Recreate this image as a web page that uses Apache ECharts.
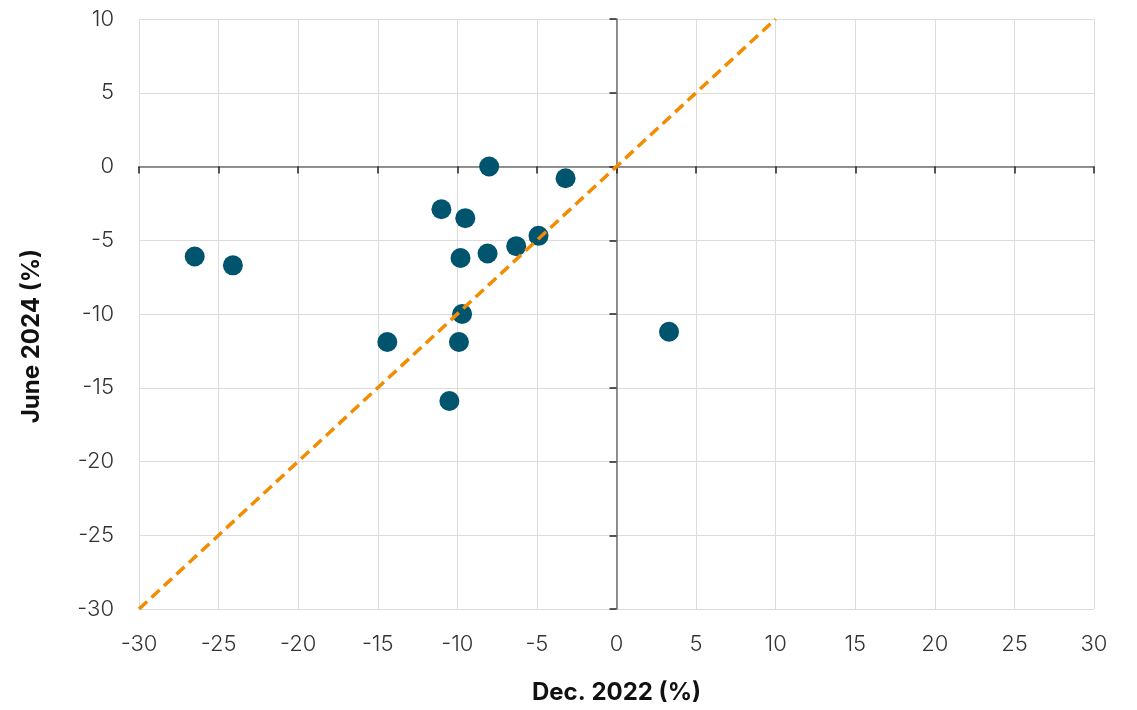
<!DOCTYPE html>
<html>
<head>
<meta charset="utf-8">
<script src="https://cdn.jsdelivr.net/npm/echarts@6/dist/echarts.min.js"></script>
<style>
html,body{margin:0;padding:0;background:#fff;}
#chart{width:1137px;height:710px;}
</style>
</head>
<body>
<div id="chart"></div>
<script>
// Dec. 2022 (%) values
const dec2022 = [-26.5, -24.1, -14.4, -11.0, -9.5, -9.8, -9.7, -9.9, -10.5, -8.0, -8.1, -6.3, -4.9, -3.2, 3.3];
// June 2024 (%) values
const june2024 = [-6.1, -6.7, -11.9, -2.9, -3.5, -6.2, -10.0, -11.9, -15.9, 0.0, -5.9, -5.4, -4.7, -0.8, -11.2];
// 45-degree reference line endpoints
const refX = [-30, 10];
const refY = [-30, 10];
const xRange = [-30, 30];
const yRange = [-30, 10];
const tickStep = 5;
const xTitle = 'Dec. 2022 (%)';
const yTitle = 'June 2024 (%)';

const points = dec2022.map((x, i) => [x, june2024[i]]);
const refLine = refX.map((x, i) => [x, refY[i]]);

const FONT = 'Inter, "Noto Sans", sans-serif';
const labelStyle = {color: '#333333', fontSize: 22, fontFamily: FONT, fontWeight: 300};
const grid = {left: 139, right: 43, top: 19, bottom: 100};

const chart = echarts.init(document.getElementById('chart'), null, {renderer: 'canvas'});
chart.setOption({
  animation: false,
  backgroundColor: '#ffffff',
  grid: grid,
  xAxis: [
    {
      type: 'value', min: xRange[0], max: xRange[1], interval: tickStep,
      position: 'bottom',
      axisLine: {show: false, onZero: false},
      axisTick: {show: false},
      axisLabel: Object.assign({margin: 24}, labelStyle),
      splitLine: {show: true, lineStyle: {color: '#dcdcdc', width: 1}},
      name: xTitle, nameLocation: 'middle', nameGap: 72,
      nameTextStyle: {color: '#111', fontSize: 24, fontWeight: 'bold', fontFamily: FONT}
    },
    {
      type: 'value', min: xRange[0], max: xRange[1], interval: tickStep,
      position: 'bottom',
      axisLine: {show: true, onZero: true, onZeroAxisIndex: 0, lineStyle: {color: '#6f6f6f', width: 1.5}},
      axisTick: {show: true, inside: false, length: 7, lineStyle: {color: '#222', width: 1.5}},
      axisLabel: {show: false},
      splitLine: {show: false}
    }
  ],
  yAxis: [
    {
      type: 'value', min: yRange[0], max: yRange[1], interval: tickStep,
      position: 'left',
      axisLine: {show: false, onZero: false},
      axisTick: {show: false},
      axisLabel: Object.assign({margin: 25}, labelStyle),
      splitLine: {show: true, lineStyle: {color: '#dcdcdc', width: 1}}
    },
    {
      type: 'value', min: yRange[0], max: yRange[1], interval: tickStep,
      position: 'left',
      axisLine: {show: true, onZero: true, onZeroAxisIndex: 0, lineStyle: {color: '#6f6f6f', width: 1.5}},
      axisTick: {show: true, inside: false, length: 7, lineStyle: {color: '#222', width: 1.5}},
      axisLabel: {show: false},
      splitLine: {show: false}
    }
  ],
  graphic: [
    {
      type: 'text', x: 32, y: 336, rotation: Math.PI / 2,
      style: {text: yTitle, fill: '#111', font: 'bold 24px ' + FONT, align: 'center', verticalAlign: 'middle'}
    }
  ],
  series: [
    {
      type: 'scatter', xAxisIndex: 0, yAxisIndex: 0,
      data: points, symbol: 'circle', symbolSize: 20,
      itemStyle: {color: '#00546e', opacity: 1}, z: 3
    },
    {
      type: 'line', xAxisIndex: 0, yAxisIndex: 0,
      data: refLine, showSymbol: false, symbol: 'none',
      lineStyle: {color: '#f28c00', width: 3.5, type: [11, 6]}, z: 4
    }
  ]
});
</script>
</body>
</html>
